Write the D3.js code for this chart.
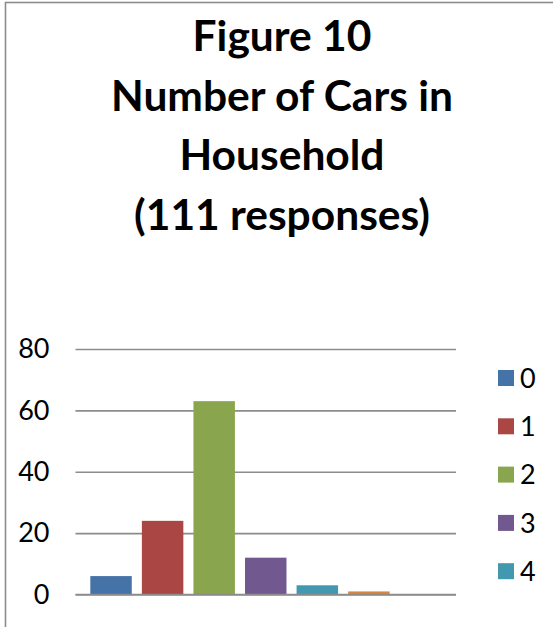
<!DOCTYPE html>
<html>
<head>
<meta charset="utf-8">
<script src="https://cdn.jsdelivr.net/npm/d3@7"></script>
<style>
  html, body { margin: 0; padding: 0; background: #fff; }
  svg { display: block; }
</style>
</head>
<body>
<svg id="chart" width="553" height="627"></svg>
<script>
// ---- data ----
const titleLines = ["Figure 10", "Number of Cars in", "Household", "(111 responses)"];
const categories = ["0", "1", "2", "3", "4", "5", "6"];
const values = [6, 24, 63, 12, 3, 1, 0];
const colors = ["#4572A7", "#AA4643", "#89A54E", "#71588F", "#4198AF", "#DB843D", "#2C4D75"];
const yTicks = [0, 20, 40, 60, 80];

// ---- layout ----
const plot = { left: 75.5, right: 456, top: 349, bottom: 594.5 };
const fontFamily = "Lato, 'Open Sans', 'Liberation Sans', sans-serif";

const svg = d3.select("#chart");

// chart frame (extends beyond the visible window on right and bottom)
svg.append("rect")
  .attr("x", 5.5).attr("y", 2.5)
  .attr("width", 600).attr("height", 700)
  .attr("fill", "#fff")
  .attr("stroke", "#8c8c8c")
  .attr("stroke-width", 1.6);

// title
const titleCenter = 282;
svg.append("g").selectAll("text")
  .data(titleLines)
  .join("text")
  .attr("x", titleCenter)
  .attr("y", (d, i) => 51 + i * 59.5)
  .attr("text-anchor", "middle")
  .attr("font-family", fontFamily)
  .attr("font-weight", "bold")
  .attr("font-size", 42.5)
  .attr("fill", "#000")
  .text(d => d);

// scales
const x = d3.scaleBand()
  .domain(categories)
  .range([plot.left, plot.right])
  .paddingInner(0.196)
  .paddingOuter(0.287);

const y = d3.scaleLinear()
  .domain([0, 80])
  .range([plot.bottom, plot.top]);

// gridlines + y axis
const yAxis = d3.axisLeft(y)
  .tickValues(yTicks)
  .tickSize(-(plot.right - plot.left))
  .tickPadding(26)
  .tickFormat(d3.format("d"));

const gy = svg.append("g")
  .attr("transform", `translate(${plot.left},0)`)
  .call(yAxis);
gy.select(".domain").remove();
gy.selectAll(".tick line")
  .attr("stroke", "#8c8c8c")
  .attr("stroke-width", 1.6);
gy.selectAll(".tick text")
  .attr("font-family", fontFamily)
  .attr("font-size", 27)
  .attr("fill", "#000");

// bars
svg.append("g").selectAll("rect")
  .data(values)
  .join("rect")
  .attr("x", (d, i) => x(categories[i]))
  .attr("width", x.bandwidth())
  .attr("y", d => y(d))
  .attr("height", d => y(0) - y(d))
  .attr("fill", (d, i) => colors[i]);

// baseline over bars
svg.append("line")
  .attr("x1", plot.left).attr("x2", plot.right)
  .attr("y1", y(0)).attr("y2", y(0))
  .attr("stroke", "#8c8c8c")
  .attr("stroke-width", 1.6);

// legend (entries that do not fit in the chart area are dropped, as in the original)
const legend = { x: 498, y0: 370, step: 48.3, box: 16, maxY: 600 };
const legendItems = categories
  .map((c, i) => ({ c, i, top: legend.y0 + i * legend.step }))
  .filter(d => d.top + legend.box <= legend.maxY);

const lg = svg.append("g").selectAll("g")
  .data(legendItems)
  .join("g")
  .attr("transform", d => `translate(${legend.x},${d.top})`);
lg.append("rect")
  .attr("width", legend.box).attr("height", legend.box)
  .attr("fill", d => colors[d.i]);
lg.append("text")
  .attr("x", 22)
  .attr("y", legend.box / 2)
  .attr("dy", "0.36em")
  .attr("font-family", fontFamily)
  .attr("font-size", 27)
  .attr("fill", "#000")
  .text(d => d.c);
</script>
</body>
</html>
